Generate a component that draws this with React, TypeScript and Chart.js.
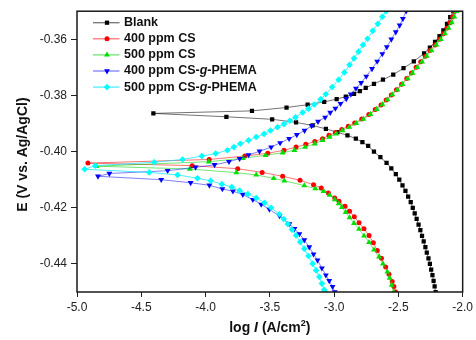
import { useEffect, useRef } from 'react';
import { Chart, registerables } from 'chart.js';

Chart.register(...registerables);

// ---------- DATA ----------
const seriesNames = ['Blank', '400 ppm CS', '500 ppm CS', '400 ppm CS-g-PHEMA', '500 ppm CS-g-PHEMA'];
const xTicks = [-5.0, -4.5, -4.0, -3.5, -3.0, -2.5, -2.0];
const yTicks = [-0.44, -0.42, -0.40, -0.38, -0.36];

// Blank: potential (V) in scan order and log i
const blankE = [
  -0.450, -0.448, -0.446, -0.444, -0.442, -0.440, -0.438, -0.436, -0.434, -0.432, -0.430, -0.428, -0.426,
  -0.424, -0.422, -0.420, -0.418, -0.416, -0.414, -0.412, -0.410, -0.408, -0.406, -0.404, -0.402, -0.400,
  -0.398, -0.3966, -0.3954, -0.3942, -0.3931, -0.3919, -0.3907, -0.3896, -0.3885, -0.3876, -0.3864,
  -0.3855, -0.3843, -0.3833, -0.3823, -0.3813, -0.3804, -0.3794, -0.3785, -0.3773, -0.3759, -0.3744,
  -0.3726, -0.3703, -0.3679, -0.3650, -0.3630, -0.3609, -0.3589, -0.3568, -0.3545, -0.3521, -0.3500,
];
const blankLogI = [
  -2.210, -2.218, -2.226, -2.235, -2.245, -2.255, -2.266, -2.279, -2.290, -2.303, -2.316, -2.329, -2.343,
  -2.358, -2.373, -2.388, -2.404, -2.424, -2.445, -2.468, -2.493, -2.520, -2.555, -2.592, -2.640, -2.690,
  -2.735, -2.780, -2.831, -2.896, -2.974, -3.064, -3.167, -3.296, -3.482, -3.838, -4.406,
  -3.639, -3.370, -3.206, -3.077, -2.980, -2.909, -2.845, -2.800, -2.754, -2.690, -2.620,
  -2.540, -2.460, -2.380, -2.300, -2.255, -2.215, -2.180, -2.150, -2.122, -2.097, -2.072,
];

// 400 ppm CS
const cs400E = [
  -0.4500, -0.4480, -0.4463, -0.4437, -0.4411, -0.4380, -0.4352, -0.4325, -0.4299, -0.4275, -0.4253, -0.4232,
  -0.4212, -0.4195, -0.4177, -0.4165, -0.4147, -0.4130, -0.4118, -0.4102, -0.4088, -0.4074, -0.4061, -0.4050,
  -0.4041,
  -0.4028, -0.4016, -0.4006, -0.3995, -0.3984, -0.3974, -0.3964, -0.3954, -0.3942, -0.3932, -0.3921, -0.3910,
  -0.3898, -0.3884, -0.3868, -0.3850, -0.3834, -0.3816, -0.3798, -0.3780, -0.3760, -0.3740, -0.3720, -0.3700,
  -0.3680, -0.3660, -0.3640, -0.3620, -0.3600, -0.3580, -0.3560, -0.3540, -0.3520, -0.3500,
];
const cs400LogI = [
  -2.521, -2.535, -2.548, -2.573, -2.599, -2.632, -2.664, -2.695, -2.728, -2.768, -2.806, -2.843,
  -2.880, -2.915, -2.962, -2.995, -3.045, -3.100, -3.160, -3.265, -3.400, -3.560, -3.750, -4.104,
  -4.915,
  -3.972, -3.694, -3.516, -3.390, -3.296, -3.220, -3.150, -3.090, -3.040, -2.990, -2.940, -2.890,
  -2.840, -2.785, -2.730, -2.680, -2.635, -2.595, -2.555, -2.515, -2.475, -2.435, -2.398, -2.362,
  -2.326, -2.290, -2.255, -2.215, -2.180, -2.150, -2.122, -2.097, -2.078, -2.062,
];

// 500 ppm CS
const cs500E = [
  -0.4500, -0.4475, -0.4450, -0.4428, -0.4400, -0.4375, -0.4350, -0.4323, -0.4300, -0.4276, -0.4255, -0.4235,
  -0.4216, -0.4198, -0.4185, -0.4171, -0.4155, -0.4141, -0.4132, -0.4121, -0.4104, -0.4095, -0.4083, -0.4075,
  -0.4062, -0.4052,
  -0.4036, -0.4024, -0.4013, -0.4004, -0.3995, -0.3984, -0.3972, -0.3960, -0.3948, -0.3937, -0.3925, -0.3913,
  -0.3899, -0.3884, -0.3867, -0.3849, -0.3832, -0.3815, -0.3797, -0.3780, -0.3760, -0.3740, -0.3720, -0.3700,
  -0.3680, -0.3660, -0.3640, -0.3620, -0.3600, -0.3580, -0.3560, -0.3540, -0.3520, -0.3500,
];
const cs500LogI = [
  -2.537, -2.552, -2.568, -2.586, -2.620, -2.651, -2.690, -2.728, -2.767, -2.806, -2.845, -2.880,
  -2.910, -2.940, -2.965, -2.995, -3.035, -3.082, -3.146, -3.232, -3.387, -3.470, -3.606, -3.760,
  -4.122, -4.850,
  -3.975, -3.710, -3.534, -3.400, -3.309, -3.225, -3.150, -3.090, -3.035, -2.985, -2.935, -2.882,
  -2.828, -2.772, -2.718, -2.668, -2.624, -2.585, -2.547, -2.508, -2.468, -2.428, -2.390, -2.353,
  -2.316, -2.280, -2.243, -2.205, -2.170, -2.138, -2.110, -2.085, -2.065, -2.048,
];

// 400 ppm CS-g-PHEMA
const pg400E = [
  -0.4500, -0.4481, -0.4460, -0.4440, -0.4415, -0.4387, -0.4365, -0.4340, -0.4315, -0.4293, -0.4275, -0.4258,
  -0.4229, -0.4206, -0.4188, -0.4171, -0.4153, -0.4141, -0.4133, -0.4120, -0.4111, -0.4100,
  -0.4088,
  -0.4078, -0.4068, -0.4056, -0.4047, -0.4036, -0.4025, -0.4012, -0.3999, -0.3984, -0.3969, -0.3954, -0.3940,
  -0.3925, -0.3908, -0.3893, -0.3878, -0.3861, -0.3846, -0.3829, -0.3812, -0.3796, -0.3775, -0.3755, -0.3732,
  -0.3705, -0.3679, -0.3652, -0.3627, -0.3600, -0.3574, -0.3550, -0.3527, -0.3500,
];
const pg400LogI = [
  -2.995, -3.012, -3.038, -3.064, -3.095, -3.129, -3.160, -3.193, -3.232, -3.270, -3.308, -3.348,
  -3.425, -3.503, -3.567, -3.632, -3.710, -3.787, -3.869, -3.970, -4.116, -4.345,
  -4.837,
  -4.748, -4.295, -4.078, -3.930, -3.818, -3.735, -3.665, -3.580, -3.490, -3.420, -3.350, -3.290,
  -3.230, -3.175, -3.125, -3.070, -3.030, -2.990, -2.950, -2.905, -2.870, -2.830, -2.790, -2.750,
  -2.705, -2.665, -2.625, -2.590, -2.555, -2.520, -2.490, -2.465, -2.440,
];

// 500 ppm CS-g-PHEMA
const pg500E = [
  -0.4500, -0.4492, -0.4470, -0.4446, -0.4423, -0.4399, -0.4372, -0.4346, -0.4322, -0.4299, -0.4278, -0.4258,
  -0.4240, -0.4223, -0.4200, -0.4182, -0.4165, -0.4151, -0.4139, -0.4126, -0.4116, -0.4104, -0.4095, -0.4083,
  -0.4074,
  -0.4063,
  -0.4050, -0.4038, -0.4028, -0.4016, -0.4007, -0.3995, -0.3984, -0.3972, -0.3960, -0.3948, -0.3937, -0.3925,
  -0.3913, -0.3902, -0.3890, -0.3878, -0.3861, -0.3847, -0.3832, -0.3814, -0.3796, -0.3770, -0.3744, -0.3718,
  -0.3691, -0.3668, -0.3644, -0.3620, -0.3598, -0.3570, -0.3545, -0.3520, -0.3500,
];
const pg500LogI = [
  -3.070, -3.077, -3.095, -3.115, -3.140, -3.167, -3.200, -3.232, -3.264, -3.296, -3.328, -3.361,
  -3.392, -3.425, -3.490, -3.541, -3.606, -3.671, -3.735, -3.796, -3.873, -3.960, -4.063, -4.218,
  -4.438,
  -4.941,
  -4.857, -4.399, -4.179, -4.029, -3.921, -3.830, -3.780, -3.730, -3.665, -3.606, -3.545, -3.495,
  -3.440, -3.390, -3.345, -3.300, -3.245, -3.200, -3.155, -3.105, -3.065, -3.015, -2.965, -2.920,
  -2.880, -2.845, -2.810, -2.775, -2.740, -2.700, -2.660, -2.625, -2.595,
];

// ---------- STYLE ----------
const FONT = "'Liberation Sans', Arial, sans-serif";
const markerColors = ['#000000', '#ff0000', '#00e000', '#0000ff', '#00ffff'];
const lineColors = ['rgba(0,0,0,0.55)', 'rgba(255,0,0,0.55)', 'rgba(0,210,0,0.55)', 'rgba(0,0,255,0.5)', 'rgba(0,230,255,0.7)'];
const markerStyles = ['rect', 'circle', 'triangle', 'triangleDown', 'rectRot'];
const markerRadii = [3.0, 2.5, 3.4, 3.4, 3.3];

function drawMarker(ctx: CanvasRenderingContext2D, style: string, x: number, y: number, r: number, color: string) {
  ctx.save();
  ctx.fillStyle = color;
  ctx.beginPath();
  if (style === 'rect') {
    const s = r * Math.SQRT1_2;
    ctx.rect(x - s, y - s, 2 * s, 2 * s);
  } else if (style === 'circle') {
    ctx.arc(x, y, r, 0, Math.PI * 2);
  } else if (style === 'triangle' || style === 'triangleDown') {
    const d = style === 'triangle' ? -1 : 1;
    ctx.moveTo(x, y + d * r);
    ctx.lineTo(x - r * 0.866, y - d * r * 0.5);
    ctx.lineTo(x + r * 0.866, y - d * r * 0.5);
    ctx.closePath();
  } else {
    ctx.moveTo(x, y - r);
    ctx.lineTo(x + r, y);
    ctx.lineTo(x, y + r);
    ctx.lineTo(x - r, y);
    ctx.closePath();
  }
  ctx.fill();
  ctx.restore();
}

function drawRich(ctx: CanvasRenderingContext2D, parts: { t: string; f: string; dy?: number }[], x: number, y: number, align: 'left' | 'center') {
  let total = 0;
  for (const p of parts) {
    ctx.font = p.f;
    total += ctx.measureText(p.t).width;
  }
  let cx = align === 'center' ? x - total / 2 : x;
  ctx.textAlign = 'left';
  for (const p of parts) {
    ctx.font = p.f;
    ctx.fillText(p.t, cx, y + (p.dy || 0));
    cx += ctx.measureText(p.t).width;
  }
}

const decorPlugin = {
  id: 'decor',
  afterDraw(chart: any) {
    const ctx: CanvasRenderingContext2D = chart.ctx;
    const a = chart.chartArea;
    ctx.save();
    // frame
    ctx.strokeStyle = '#1a1a1a';
    ctx.lineWidth = 1.5;
    ctx.strokeRect(a.left, a.top, a.right - a.left, a.bottom - a.top);

    // legend
    const lx0 = a.left + 16;
    const lx1 = a.left + 42.5;
    const mx = a.left + 30;
    const tx = a.left + 47;
    seriesNames.forEach((name, i) => {
      const y = a.top + 11.5 + i * 16.1;
      ctx.strokeStyle = lineColors[i];
      ctx.lineWidth = 1.3;
      ctx.beginPath();
      ctx.moveTo(lx0, y);
      ctx.lineTo(lx1, y);
      ctx.stroke();
      drawMarker(ctx, markerStyles[i], mx, y, markerRadii[i], markerColors[i]);
      ctx.fillStyle = '#111';
      ctx.textBaseline = 'middle';
      const bold = `bold 12.5px ${FONT}`;
      const boldIt = `italic bold 12.5px ${FONT}`;
      if (name.includes('-g-')) {
        const [pre, post] = name.split('-g-');
        drawRich(ctx, [{ t: pre + '-', f: bold }, { t: 'g', f: boldIt }, { t: '-' + post, f: bold }], tx, y, 'left');
      } else {
        drawRich(ctx, [{ t: name, f: bold }], tx, y, 'left');
      }
    });

    // y title
    ctx.fillStyle = '#111';
    ctx.save();
    ctx.translate(23, (a.top + a.bottom) / 2 + 3);
    ctx.rotate(-Math.PI / 2);
    ctx.textAlign = 'center';
    ctx.textBaseline = 'middle';
    ctx.font = `bold 14px ${FONT}`;
    ctx.fillText('E (V vs. Ag/AgCl)', 0, 0);
    ctx.restore();

    // x title
    ctx.textBaseline = 'alphabetic';
    const b14 = `bold 14px ${FONT}`;
    drawRich(ctx, [
      { t: 'log ', f: b14 },
      { t: 'I', f: `italic bold 14px ${FONT}` },
      { t: ' (A/cm', f: b14 },
      { t: '2', f: `bold 9px ${FONT}`, dy: -6 },
      { t: ')', f: b14 },
    ], (a.left + a.right) / 2, 332, 'center');
    ctx.restore();
  },
};

const seriesE = [blankE, cs400E, cs500E, pg400E, pg500E];
const seriesLogI = [blankLogI, cs400LogI, cs500LogI, pg400LogI, pg500LogI];

export default function App() {
  const ref = useRef<HTMLCanvasElement | null>(null);

  useEffect(() => {
    if (!ref.current) return;
    const datasets = seriesNames.map((name, i) => ({
      label: name,
      data: seriesE[i].map((e, k) => ({ x: seriesLogI[i][k], y: e })),
      showLine: true,
      borderColor: lineColors[i],
      borderWidth: 1,
      backgroundColor: markerColors[i],
      pointBackgroundColor: markerColors[i],
      pointBorderColor: markerColors[i],
      pointBorderWidth: 0,
      pointStyle: markerStyles[i] === 'triangleDown' ? 'triangle' : markerStyles[i],
      rotation: markerStyles[i] === 'triangleDown' ? 180 : 0,
      pointRotation: markerStyles[i] === 'triangleDown' ? 180 : 0,
      pointRadius: markerRadii[i],
      pointHoverRadius: markerRadii[i],
      tension: 0,
      order: 4 - i,
    }));

    const chart = new Chart(ref.current, {
      type: 'scatter',
      data: { datasets },
      options: {
        animation: false,
        responsive: false,
        maintainAspectRatio: false,
        events: [],
        layout: { padding: { left: 0, top: 7, right: 12, bottom: 0 } },
        plugins: { legend: { display: false }, tooltip: { enabled: false }, title: { display: false } },
        scales: {
          x: {
            type: 'linear',
            min: -5,
            max: -2,
            afterFit: (s: any) => { s.height = 48; },
            afterBuildTicks: (s: any) => { s.ticks = xTicks.map((v) => ({ value: v })); },
            border: { display: false },
            grid: { display: true, drawOnChartArea: false, drawTicks: true, tickLength: 5, color: '#222', lineWidth: 1 },
            ticks: {
              autoSkip: false,
              maxRotation: 0,
              padding: 3,
              color: '#222',
              font: { family: FONT, size: 12 },
              callback: (v: any) => Number(v).toFixed(1),
            },
          },
          y: {
            type: 'linear',
            min: -0.45,
            max: -0.35,
            afterFit: (s: any) => { s.width = 77; },
            afterBuildTicks: (s: any) => { s.ticks = yTicks.map((v) => ({ value: v })); },
            border: { display: false },
            grid: { display: true, drawOnChartArea: false, drawTicks: true, tickLength: 6, color: '#222', lineWidth: 1 },
            ticks: {
              autoSkip: false,
              padding: 4,
              color: '#222',
              font: { family: FONT, size: 12 },
              callback: (v: any) => Number(v).toFixed(2),
            },
          },
        },
      },
      plugins: [decorPlugin],
    } as any);
    return () => chart.destroy();
  }, []);

  return (
    <div style={{ position: 'fixed', left: 0, top: 0, width: 476, height: 340, background: '#fff' }}>
      <canvas ref={ref} width={476} height={340} style={{ width: 476, height: 340, display: 'block' }} />
    </div>
  );
}
